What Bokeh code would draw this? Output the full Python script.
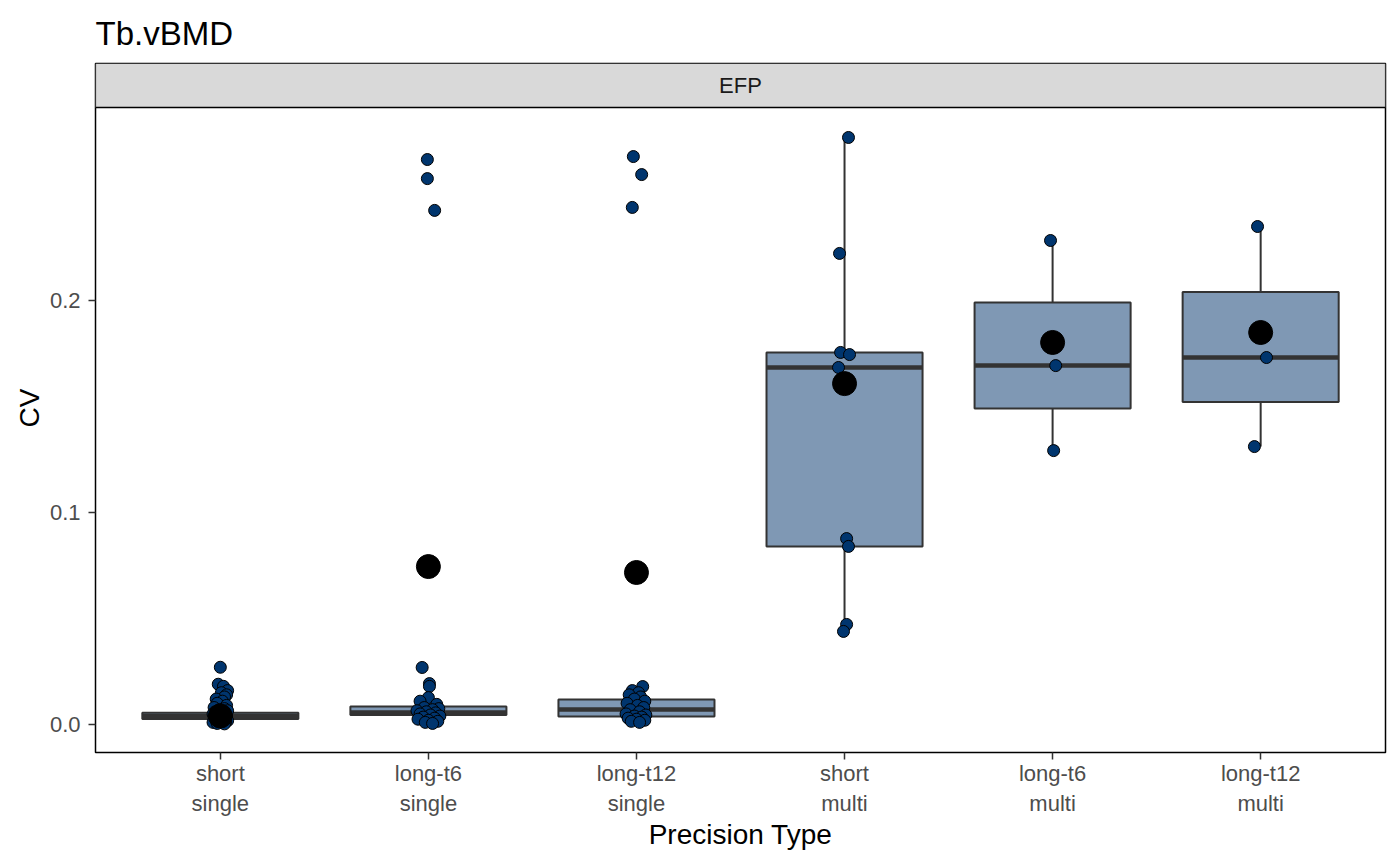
from bokeh.plotting import figure
from bokeh.models import Range1d, FixedTicker, ColumnDataSource, Span
from bokeh.embed import file_html
from bokeh.resources import INLINE
from bokeh.core.properties import value

# ---------------- data ----------------
title_text = "Tb.vBMD"
facet_label = "EFP"
x_title = "Precision Type"
y_title = "CV"
categories = ["short\nsingle", "long-t6\nsingle", "long-t12\nsingle",
              "short\nmulti", "long-t6\nmulti", "long-t12\nmulti"]
y_ticks = [0.0, 0.1, 0.2]
y_tick_labels = ["0.0", "0.1", "0.2"]

lower_whisker = [0.0005, 0.0010, 0.0010, 0.0439, 0.1292, 0.1311]
q1 = [0.0026, 0.0045, 0.0038, 0.0840, 0.1490, 0.1521]
median = [0.0040, 0.0057, 0.0071, 0.1684, 0.1693, 0.1731]
q3 = [0.0056, 0.0085, 0.0118, 0.1755, 0.1990, 0.2040]
upper_whisker = [0.0120, 0.0130, 0.0180, 0.2769, 0.2283, 0.2349]
means = [0.0040, 0.0745, 0.0717, 0.1608, 0.1802, 0.1849]

cv_short_single = [0.027, 0.019, 0.018, 0.016, 0.015, 0.014, 0.013, 0.012, 0.011, 0.010,
                   0.009, 0.008, 0.0075, 0.007, 0.0065, 0.006, 0.0055, 0.005, 0.0045, 0.004,
                   0.0035, 0.003, 0.0025, 0.002, 0.0018, 0.0015, 0.0012, 0.001, 0.0008, 0.0005, 0.0003]
jit_short_single = [0.0, -0.01, 0.015, 0.035, 0.005, 0.03, 0.02, -0.02, 0.01, -0.015,
                    0.03, -0.03, 0.02, -0.005, 0.035, -0.025, 0.005, -0.035, 0.025, -0.01,
                    0.03, -0.03, 0.01, -0.02, 0.035, 0.0, 0.025, -0.035, 0.015, -0.015, 0.02]

cv_long6_single = [0.2665, 0.2575, 0.2425, 0.0269, 0.0193, 0.018, 0.0127, 0.011, 0.0095, 0.008,
                   0.0075, 0.007, 0.0065, 0.006, 0.0055, 0.005, 0.0045, 0.004, 0.0035, 0.003,
                   0.0025, 0.002, 0.0015, 0.001, 0.0005]
jit_long6_single = [-0.005, -0.005, 0.03, -0.03, 0.005, 0.005, 0.0, -0.04, 0.04, -0.02,
                    0.05, 0.02, -0.055, -0.01, 0.035, -0.04, 0.01, 0.055, -0.025, 0.03,
                    -0.05, 0.0, 0.045, -0.015, 0.02]

cv_long12_single = [0.2679, 0.2594, 0.2439, 0.0179, 0.016, 0.015, 0.014, 0.013, 0.012, 0.011,
                    0.010, 0.009, 0.008, 0.007, 0.006, 0.005, 0.0045, 0.004, 0.0035, 0.003,
                    0.0025, 0.002, 0.0015, 0.001]
jit_long12_single = [-0.015, 0.025, -0.02, 0.03, -0.02, 0.01, -0.035, 0.02, -0.01, 0.04,
                     -0.045, 0.005, 0.035, -0.03, 0.015, -0.05, 0.045, -0.01, 0.025, -0.04,
                     0.0, 0.04, -0.025, 0.015]

cv_short_multi = [0.2769, 0.2222, 0.1755, 0.1745, 0.1684, 0.0877, 0.0840, 0.0472, 0.0439]
jit_short_multi = [0.019, -0.024, -0.019, 0.024, -0.029, 0.010, 0.019, 0.010, -0.005]

cv_long6_multi = [0.2283, 0.1693, 0.1292]
jit_long6_multi = [-0.01, 0.015, 0.005]

cv_long12_multi = [0.2349, 0.1731, 0.1311]
jit_long12_multi = [-0.015, 0.028, -0.03]

point_groups = [
    (cv_short_single, jit_short_single),
    (cv_long6_single, jit_long6_single),
    (cv_long12_single, jit_long12_single),
    (cv_short_multi, jit_short_multi),
    (cv_long6_multi, jit_long6_multi),
    (cv_long12_multi, jit_long12_multi),
]

# ---------------- styling / layout ----------------
FONT = "Liberation Sans"
BOX_FILL = "#7f98b4"
PT_FILL = "#00356e"
DARK = "#333333"

y_lo, y_panel_top, y_hi = -0.013208, 0.291038, 0.311792

xpos = {c: i + 1 for i, c in enumerate(categories)}

p = figure(width=1400, height=865, output_backend="svg", toolbar_location=None,
           x_range=Range1d(0.4, 6.6), y_range=Range1d(y_lo, y_hi),
           min_border_left=95, min_border_right=15, min_border_top=63, min_border_bottom=113)
p.background_fill_color = "white"
p.border_fill_color = "white"
p.xgrid.visible = False
p.ygrid.visible = False
p.outline_line_color = "black"
p.outline_line_width = 1.5

# title
p.title.text = title_text
p.title.text_font = FONT
p.title.text_font_size = "33px"
p.title.text_font_style = "normal"
p.title.text_color = "black"
p.title.align = "left"
p.title.standoff = 23

# strip
p.quad(left=[0.4], right=[6.6], bottom=[y_panel_top], top=[y_hi], fill_color="#d9d9d9",
       line_color=DARK, line_width=1.2)
p.text(x=[3.5], y=[(y_panel_top + y_hi) / 2], text=[facet_label], text_font=value(FONT),
       text_font_size="22px", text_color="#1a1a1a", text_align="center", text_baseline="middle")
p.add_layout(Span(location=y_panel_top, dimension="width", line_color="black", line_width=1.5))

# boxes
xs = [xpos[c] for c in categories]
src = ColumnDataSource(dict(x=xs, q1=q1, q3=q3, med=median, lw=lower_whisker, uw=upper_whisker,
                            left=[x - 0.375 for x in xs], right=[x + 0.375 for x in xs]))
p.segment(x0="x", y0="q3", x1="x", y1="uw", source=src, line_color=DARK, line_width=2)
p.segment(x0="x", y0="q1", x1="x", y1="lw", source=src, line_color=DARK, line_width=2)
p.vbar(x="x", width=0.75, bottom="q1", top="q3", source=src, fill_color=BOX_FILL,
       line_color=DARK, line_width=2)
p.segment(x0="left", y0="med", x1="right", y1="med", source=src, line_color=DARK, line_width=4.5)

# points
for c, (vals, jit) in zip(categories, point_groups):
    p.scatter(x=[xpos[c] + j for j in jit], y=vals, size=12, fill_color=PT_FILL,
              line_color="black", line_width=1)

# means
p.scatter(x=xs, y=means, size=24, fill_color="black", line_color="black")

# axes
p.xaxis.ticker = FixedTicker(ticks=xs)
p.xaxis.major_label_overrides = {x: c for x, c in zip(xs, categories)}
p.yaxis.ticker = FixedTicker(ticks=y_ticks)
p.yaxis.major_label_overrides = {t: l for t, l in zip(y_ticks, y_tick_labels)}
for ax in (p.xaxis, p.yaxis):
    ax.axis_line_color = None
    ax.major_tick_line_color = DARK
    ax.major_tick_line_width = 1.5
    ax.major_tick_out = 7
    ax.major_tick_in = 0
    ax.minor_tick_line_color = None
    ax.major_label_text_font = FONT
    ax.major_label_text_font_size = "22px"
    ax.major_label_text_color = "#4d4d4d"
    ax.axis_label_text_font = FONT
    ax.axis_label_text_font_size = "28px"
    ax.axis_label_text_font_style = "normal"
    ax.axis_label_text_color = "black"
p.xaxis.axis_label = x_title
p.yaxis.axis_label = y_title
p.xaxis.major_label_standoff = 1
p.yaxis.major_label_standoff = 8
p.xaxis.axis_label_standoff = 0
p.yaxis.axis_label_standoff = 2

open("out.html", "w").write(file_html(p, INLINE))
